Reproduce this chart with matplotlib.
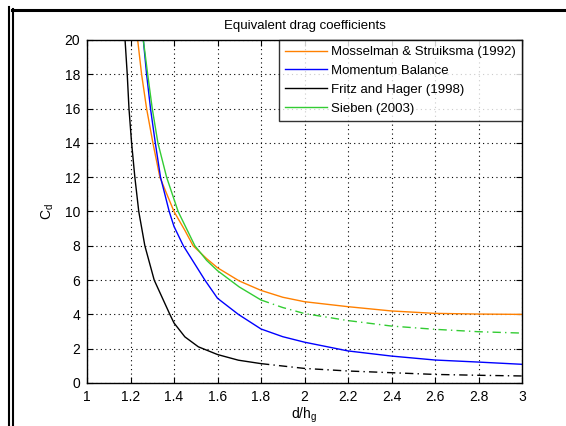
import numpy as np
import matplotlib.pyplot as plt
from matplotlib.lines import Line2D

plt.rcParams['font.family'] = ['Liberation Sans', 'DejaVu Sans']

# values
mos_x = [1.233, 1.251, 1.274, 1.303, 1.335, 1.40, 1.45, 1.488, 1.55, 1.6, 1.7, 1.8, 1.9, 2.0, 2.2, 2.4, 2.6, 2.8, 3.0]
mos_y = [20, 18, 16, 14, 12, 10, 8.9, 8.0, 7.25, 6.72, 5.95, 5.4, 5.0, 4.74, 4.45, 4.2, 4.06, 4.02, 4.0]

mom_x = [1.259, 1.274, 1.292, 1.314, 1.338, 1.378, 1.40, 1.443, 1.5, 1.542, 1.6, 1.696, 1.8, 1.9, 2.0, 2.2, 2.4, 2.6, 2.8, 3.0]
mom_y = [20, 18, 16, 14, 12, 10, 9.13, 8, 6.85, 6, 4.94, 4, 3.15, 2.7, 2.38, 1.87, 1.57, 1.34, 1.22, 1.09]

fh_x = [1.175, 1.185, 1.193, 1.205, 1.22, 1.238, 1.266, 1.309, 1.381, 1.4, 1.45, 1.512, 1.6, 1.696, 1.8, 2.0, 2.2, 2.4, 2.6, 2.8, 3.0]
fh_y = [20, 18, 16, 14, 12, 10, 8, 6, 4, 3.5, 2.69, 2.11, 1.66, 1.33, 1.13, 0.85, 0.7, 0.6, 0.5, 0.45, 0.41]

sie_x = [1.259, 1.279, 1.300, 1.326, 1.366, 1.419, 1.496, 1.55, 1.6, 1.7, 1.8, 1.9, 2.0, 2.2, 2.4, 2.6, 2.8, 3.0]
sie_y = [20, 18, 16, 14, 12, 10, 8, 7.15, 6.55, 5.6, 4.84, 4.4, 4.05, 3.64, 3.32, 3.13, 2.99, 2.91]

x_ticks = [1, 1.2, 1.4, 1.6, 1.8, 2, 2.2, 2.4, 2.6, 2.8, 3]
x_labels = ['1', '1.2', '1.4', '1.6', '1.8', '2', '2.2', '2.4', '2.6', '2.8', '3']
y_ticks = [0, 2, 4, 6, 8, 10, 12, 14, 16, 18, 20]

W, H = 566, 426
fig = plt.figure(figsize=(W / 100, H / 100), dpi=100)
ax = fig.add_axes([87 / W, 1 - 383 / H, (522 - 87) / W, (383 - 40) / H])

orange = '#ff8000'
green = '#33cc33'
split = 1.8

ax.plot(mos_x, mos_y, color=orange, lw=1.0, label='Mosselman & Struiksma (1992)')
ax.plot(mom_x, mom_y, color='#0000ff', lw=1.0, label='Momentum Balance')

# black and green: solid where steep, dash-dot beyond x = 1.8
fx, fy = np.array(fh_x), np.array(fh_y)
m = fx <= split
ax.plot(fx[m], fy[m], color='black', lw=1.0, label='Fritz and Hager (1998)')
ax.plot(fx[fx >= split], fy[fx >= split], color='black', lw=1.0, linestyle=(0, (6, 3, 1, 3)))

sx, sy = np.array(sie_x), np.array(sie_y)
m = sx <= split
ax.plot(sx[m], sy[m], color=green, lw=1.0, label='Sieben (2003)')
ax.plot(sx[sx >= split], sy[sx >= split], color=green, lw=1.0, linestyle=(0, (6, 3, 1, 3)))

ax.set_xlim(1, 3)
ax.set_ylim(0, 20)
ax.set_xticks(x_ticks)
ax.set_xticklabels(x_labels)
ax.set_yticks(y_ticks)
ax.grid(True, color='black', linestyle=(0, (1, 3)), linewidth=0.8)
ax.tick_params(direction='in', length=4, top=True, right=True, labelsize=10, pad=5)
for s in ax.spines.values():
    s.set_linewidth(1.0)

ax.set_title('Equivalent drag coefficients', fontsize=9.5, pad=8)
ax.set_xlabel('d/h$_\\mathregular{g}$', fontsize=10, labelpad=1)
ax.set_ylabel('C$_\\mathregular{d}$', fontsize=10, labelpad=6)

leg = ax.legend(loc='upper right', fontsize=9.5, frameon=True, fancybox=False,
                borderaxespad=0, handlelength=3.2, handletextpad=0.3,
                labelspacing=0.5, borderpad=0.45)
leg.get_frame().set_edgecolor('black')
leg.get_frame().set_linewidth(1.0)

# window frame lines around the figure
fig.add_artist(Line2D([9 / W, 9 / W], [1 - 7 / H, 0], color='black', lw=1.5))
fig.add_artist(Line2D([13 / W, 13 / W], [1 - 9 / H, 0], color='black', lw=1.5))
fig.add_artist(Line2D([12 / W, 1], [1 - 9.5 / H, 1 - 9.5 / H], color='black', lw=2.2))

fig.savefig('out.png', dpi=100)
